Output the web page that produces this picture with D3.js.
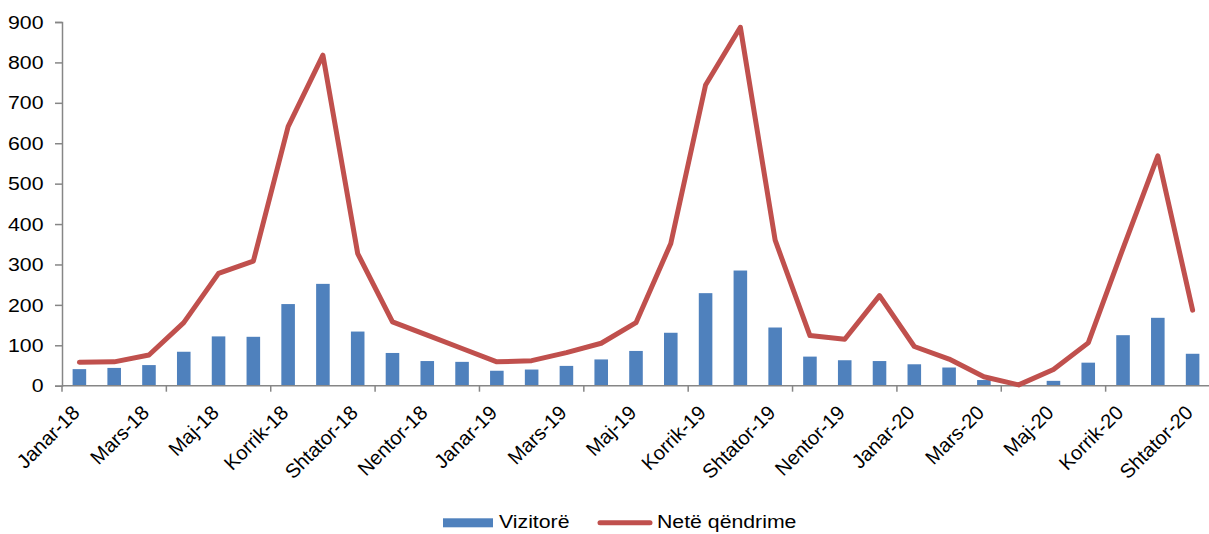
<!DOCTYPE html>
<html>
<head>
<meta charset="utf-8">
<script src="https://cdn.jsdelivr.net/npm/d3@7"></script>
<style>
  html, body { margin: 0; padding: 0; background: #fff; }
  svg text { font-family: "Liberation Sans", Arial, sans-serif; fill: #000; }
</style>
</head>
<body>
<svg id="chart" width="1209" height="534"></svg>
<script>
const months = [
  "Janar-18","Shkurt-18","Mars-18","Prill-18","Maj-18","Qershor-18","Korrik-18","Gusht-18","Shtator-18","Tetor-18","Nentor-18","Dhjetor-18",
  "Janar-19","Shkurt-19","Mars-19","Prill-19","Maj-19","Qershor-19","Korrik-19","Gusht-19","Shtator-19","Tetor-19","Nentor-19","Dhjetor-19",
  "Janar-20","Shkurt-20","Mars-20","Prill-20","Maj-20","Qershor-20","Korrik-20","Gusht-20","Shtator-20"
];
const vizitore = [41,44,51,84,122,121,202,252,134,81,61,59,37,40,49,65,86,131,229,285,144,72,63,61,53,45,14,0,12,57,125,168,79];
const neteQendrime = [58,59,76,156,278,308,641,818,327,158,125,92,59,62,82,105,156,352,744,887,360,124,115,223,97,66,22,2,40,106,340,569,187];
const yTicks = [0,100,200,300,400,500,600,700,800,900];
const seriesNames = ["Vizitorë","Netë qëndrime"];

const svg = d3.select("#chart");
const left = 62;
const fontSize = "18.5px";
const sx = 1.15;
const x = d3.scaleBand().domain(months).range([left, 1210]).paddingInner(0.61).paddingOuter(0.305);
const xStep = x.step();
const y = d3.scaleLinear().domain([0, 900]).range([385.7, 22]);
const axisColor = "#868686";

// bars
svg.append("g").selectAll("rect").data(vizitore).join("rect")
  .attr("x", (d,i) => x(months[i]))
  .attr("width", x.bandwidth())
  .attr("y", d => y(d))
  .attr("height", d => y(0) - y(d))
  .attr("fill", "#4F81BD");

// y axis
const yAxis = svg.append("g").attr("transform", `translate(${left},0)`)
  .call(d3.axisLeft(y).tickValues(yTicks).tickSize(7).tickFormat(""));
yAxis.select(".domain").attr("stroke", axisColor).attr("stroke-width", 1.5);
yAxis.selectAll(".tick line").attr("stroke", axisColor).attr("stroke-width", 1.5);
svg.append("g").selectAll("text").data(yTicks).join("text")
  .attr("transform", d => `translate(43.5,${y(d)}) scale(${sx},1)`)
  .attr("text-anchor", "end")
  .attr("dy", "0.36em")
  .style("font-size", fontSize)
  .text(d => d);

// x axis
const xAxisG = svg.append("g").attr("transform", `translate(0,${y(0)})`);
xAxisG.append("line").attr("x1", left).attr("x2", 1210).attr("y1", 0).attr("y2", 0)
  .attr("stroke", axisColor).attr("stroke-width", 1.5);
const tickIdx = d3.range(0, months.length + 1, 3);
xAxisG.selectAll("line.tk").data(tickIdx).join("line").attr("class","tk")
  .attr("x1", i => left + i * xStep).attr("x2", i => left + i * xStep)
  .attr("y1", 0).attr("y2", 6).attr("stroke", axisColor).attr("stroke-width", 1.5);
const labelIdx = d3.range(0, months.length, 2);
svg.append("g").selectAll("text").data(labelIdx).join("text")
  .attr("transform", i => `translate(${x(months[i]) + x.bandwidth()/2 + 1.5},414) rotate(-45)`)
  .attr("text-anchor", "end")
  .style("font-size", "20px")
  .text(i => months[i]);

// line
const line = d3.line().x((d,i) => x(months[i]) + x.bandwidth()/2).y(d => y(d));
svg.append("path").datum(neteQendrime)
  .attr("d", line)
  .attr("fill", "none")
  .attr("stroke", "#C0504D")
  .attr("stroke-width", 5)
  .attr("stroke-linejoin", "round")
  .attr("stroke-linecap", "round");

// legend
const lg = svg.append("g");
lg.append("rect").attr("x", 443).attr("y", 518.3).attr("width", 50).attr("height", 9).attr("fill", "#4F81BD");
lg.append("text").attr("transform", `translate(499,528.3) scale(${sx},1)`).style("font-size", fontSize).text(seriesNames[0]);
lg.append("line").attr("x1", 600).attr("x2", 650).attr("y1", 522.7).attr("y2", 522.7)
  .attr("stroke", "#C0504D").attr("stroke-width", 5).attr("stroke-linecap", "round");
lg.append("text").attr("transform", `translate(657,528.3) scale(${sx},1)`).style("font-size", fontSize).text(seriesNames[1]);
</script>
</body>
</html>
